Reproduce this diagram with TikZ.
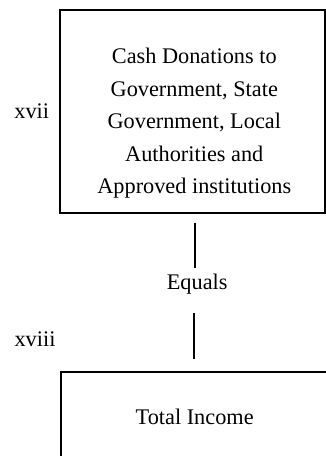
\documentclass[tikz,border=0pt]{standalone}
\usepackage{fontspec}
\setmainfont{Liberation Serif}
\begin{document}
\begin{tikzpicture}[x=1pt,y=-1pt,
  lbl/.style={inner sep=0pt, font=\fontsize{22.3}{32.5}\selectfont},
  boxline/.style={line width=2pt, line cap=rect},
  conn/.style={line width=1.9pt}]
\useasboundingbox (0,0) rectangle (326,456);
\clip (0,0) rectangle (326,456);
% top box
\node[boxline, draw, minimum width=265.5pt, minimum height=203pt, inner sep=0pt] (box1) at (192.25,111) {};
\node[lbl, align=center] (t1) at (194.3,123.2) {Cash Donations to\\Government, State\\Government, Local\\Authorities and\\Approved institutions};
\node[lbl, anchor=base] (xvii) at (31.7,118.5) {xvii};
% connector labels
\node[lbl, anchor=base] (eq) at (197.2,289.3) {Equals};
\node[lbl, anchor=base] (xviii) at (35,346.7) {xviii};
\coordinate (a1) at (195,222.7);
\coordinate (a2) at (195,268);
\coordinate (b1) at (194,313);
\coordinate (b2) at (194,359);
\draw[conn] (a1) -- (a2);
\draw[conn] (b1) -- (b2);
% bottom box (cut off by the frame)
\node[boxline, draw, minimum width=290pt, minimum height=120pt, inner sep=0pt, anchor=north west] (box2) at (59.5,370.7) {};
\node[lbl, anchor=base] (t2) at (194.7,424) {Total Income};
\end{tikzpicture}
\end{document}
